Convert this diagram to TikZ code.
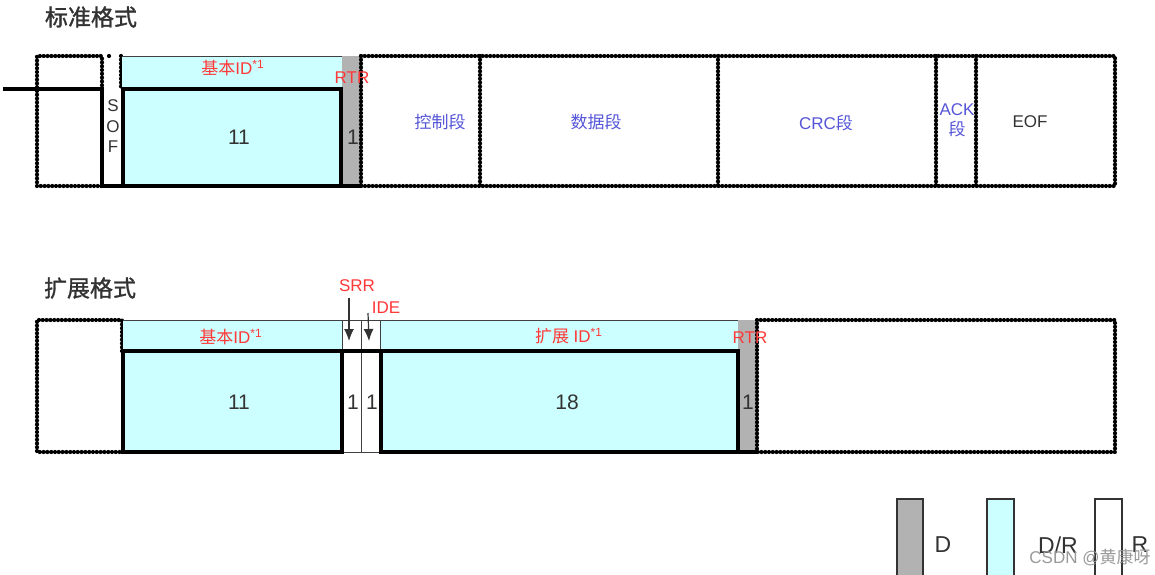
\documentclass[tikz,border=0pt]{standalone}
\usepackage{fontspec}
\setmainfont{Liberation Sans}
\newfontfamily\cjk{Noto Sans CJK SC}
\newfontfamily\cjkhead{Noto Sans CJK SC}[FakeBold=1.2]
\usetikzlibrary{arrows,arrows.meta,calc}

\definecolor{idcyan}{HTML}{CCFFFF}
\definecolor{domgray}{HTML}{B2B2B2}
\definecolor{lblred}{HTML}{FF3838}
\definecolor{lblblue}{HTML}{5555D8}
\definecolor{txtgray}{HTML}{333333}

\begin{document}
\begin{tikzpicture}[x=0.5pt,y=-0.5pt,>=latex]
	\tikzstyle{dotline}=[line width=2.1pt,line cap=round,dash pattern=on 0pt off 1.9pt]
	\tikzstyle{boldline}=[line width=2pt]
	\tikzstyle{thinline}=[line width=0.5pt,draw=black!75]
	\tikzstyle{redlbl}=[inner sep=0pt,text=lblred,font=\fontsize{8.5}{9}\selectfont]
	\tikzstyle{bluelbl}=[inner sep=0pt,text=lblblue,font=\fontsize{8.5}{9}\selectfont\cjk]
	\tikzstyle{bitnum}=[inner sep=0pt,text=txtgray,font=\fontsize{10.5}{11}\selectfont]
	\tikzstyle{title}=[inner sep=0pt,text=txtgray,font=\fontsize{11.5}{12}\selectfont\cjkhead]
	\tikzstyle{legbox}=[draw=txtgray,line width=0.8pt]
	\tikzstyle{fieldarrow}=[-{Latex[length=6pt,width=5pt]},line width=0.6pt,draw=black!80]

	\useasboundingbox (0,0) rectangle (1155,574);

	% ---- standard format ----
	\node (stdtitle) [title] at (91,17) {标准格式};

	\draw [dotline] (102,89) -- (102,56) -- (37,56) -- (37,186) -- (102,186);
	\draw [dotline] (109,56) -- (112,56);
	\draw [dotline] (121,56) -- (121,89);

	\fill [idcyan] (122,56) rectangle (342,186);
	\draw [thinline] (122,56) -- (342,56);
	\fill [domgray] (342,56) rectangle (361,186);
	\draw [boldline] (3,89) -- (102,89) -- (102,186) -- (123,186);
	\draw [boldline] (123,89) rectangle (341,186);
	\draw [boldline] (341,186) -- (361,186);

	\draw [dotline] (361,56) -- (1115,56) -- (1115,186) -- (361,186);
	\foreach \xx in {361,480,718,936,976}
		\draw [dotline] (\xx,56) -- (\xx,186);

	\foreach \ch/\yy in {S/106,O/127,F/147}
		\node [inner sep=0pt,text=txtgray,font=\fontsize{8.5}{9}\selectfont] at (113,\yy) {\ch};

	\node (stdbase) [redlbl] at (233,68) {{\cjk 基本}ID\textsuperscript{*1}};
	\node (stdrtr) [redlbl] at (352,78) {RTR};
	\node (stdbasebits) [bitnum] at (239,137) {11};
	\node (stdrtrbits) [bitnum] at (353,137) {1};

	\node (ctrl) [bluelbl] at (440,122) {控制段};
	\node (data) [bluelbl] at (596,122) {数据段};
	\node (crc) [bluelbl] at (826,123) {{\fontspec{Liberation Sans}CRC}段};
	\node (ack) [bluelbl,align=center] at (957,120) {{\fontspec{Liberation Sans}ACK}\\[1pt]段};
	\node (eof) [inner sep=0pt,text=txtgray,font=\fontsize{8.5}{9}\selectfont] at (1030,122) {EOF};

	% ---- extended format ----
	\node (exttitle) [title] at (90,288) {扩展格式};

	\draw [dotline] (122,351) -- (122,320) -- (37,320) -- (37,452) -- (122,452);

	\fill [idcyan] (123,320) rectangle (342,452);
	\fill [idcyan] (380,320) rectangle (738,452);
	\fill [domgray] (738,320) rectangle (757,452);
	\draw [thinline] (123,320) -- (738,320);
	\draw [thinline] (342,320) -- (342,351);
	\draw [thinline] (361,320) -- (361,452);
	\draw [thinline] (380,320) -- (380,351);
	\draw [thinline] (342,452) -- (380,452);
	\draw [boldline] (123,351) rectangle (342,452);
	\draw [boldline] (381,351) rectangle (738,452);
	\draw [boldline] (342,351) -- (381,351);
	\draw [boldline] (738,452) -- (757,452);
	\draw [dotline] (757,320) -- (1115,320) -- (1115,452) -- (757,452) -- cycle;

	\node (extbase) [redlbl] at (231,337) {{\cjk 基本}ID\textsuperscript{*1}};
	\node (extid) [redlbl] at (569,336) {{\cjk 扩展} ID\textsuperscript{*1}};
	\node (extrtr) [redlbl] at (750,338) {RTR};
	\node (srr) [redlbl] at (357,286) {SRR};
	\node (ide) [redlbl] at (386,308) {IDE};

	\coordinate (srrtail) at (349,298);
	\coordinate (srrcell) at (349,341);
	\coordinate (idetail) at (368,313);
	\coordinate (idecell) at (369,341);
	\draw [fieldarrow] (srrtail) -- (srrcell);
	\draw [fieldarrow] (idetail) -- (idecell);

	\node (extbasebits) [bitnum] at (239,402) {11};
	\node (srrbits) [bitnum] at (353,402) {1};
	\node (idebits) [bitnum] at (372,402) {1};
	\node (extidbits) [bitnum] at (567,402) {18};
	\node (extrtrbits) [bitnum] at (748,402) {1};

	% ---- legend ----
	\draw [legbox,fill=domgray] (897,499) rectangle (923,580);
	\draw [legbox,fill=idcyan] (987,499) rectangle (1014,580);
	\draw [legbox,fill=white] (1095,499) rectangle (1122,580);
	\node (legd) [inner sep=0pt,text=txtgray,font=\fontsize{11.5}{12}\selectfont] at (943,545) {D};
	\node (legdr) [inner sep=0pt,text=txtgray,font=\fontsize{11.5}{12}\selectfont] at (1058,545) {D/R};
	\node (legr) [inner sep=0pt,text=txtgray,font=\fontsize{11.5}{12}\selectfont] at (1140,545) {R};

	\node (mark) [inner sep=0pt,text=black!40,font=\fontsize{8.5}{9}\selectfont] at (1090,557) {CSDN @{\cjk 黄康呀}};
\end{tikzpicture}
\end{document}
